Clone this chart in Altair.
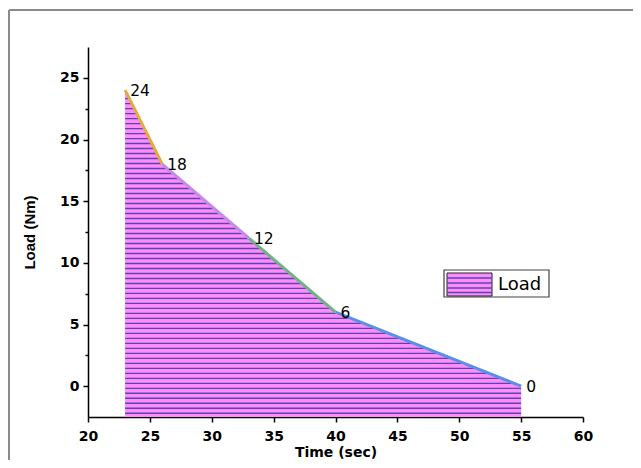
import altair as alt
import pandas as pd

# ---- data ----
time_sec = [23, 26, 33, 40, 55]
load_nm = [24, 18, 12, 6, 0]
point_labels = ["24", "18", "12", "6", "0"]
segment_names = ["a", "b", "c", "d"]
segment_colors = ["#e2ac3a", "#c58ae8", "#6fb383", "#5b8fe6"]
legend_label = "Load"
x_title = "Time (sec)"
y_title = "Load (Nm)"

PINK = "#fd8dfd"
DARK = "#5c44b0"
W, H = 495, 370
XDOM = [20, 60]
YDOM = [-2.5, 27.5]

pts = pd.DataFrame({"t": time_sec, "load": load_nm, "lab": point_labels})
seg_rows = []
for i, name in enumerate(segment_names):
    for j in (i, i + 1):
        seg_rows.append({"seg": name, "t": time_sec[j], "load": load_nm[j], "o": j})
segs = pd.DataFrame(seg_rows)
one = pd.DataFrame({"k": [0]})

xs = alt.Scale(domain=XDOM, nice=False, zero=False)
ys = alt.Scale(domain=YDOM, nice=False, zero=False)

common_axis = dict(
    grid=False, domainColor="black", domainWidth=1.5, tickColor="black", tickWidth=1.5,
    labelFont="DejaVu Sans", labelFontWeight="bold", labelFontSize=14, labelColor="black",
    titleFont="DejaVu Sans", titleFontWeight="bold", titleFontSize=14, titleColor="black",
    labelOverlap=False, labelFlush=False,
    labelExpr="datum.value % 5 === 0 ? datum.label : ''",
    tickSize={"condition": {"test": "datum.value % 5 === 0", "value": 5}, "value": 3},
)
x_axis = alt.Axis(values=[20 + 2.5 * i for i in range(17)], title=x_title,
                  labelPadding=7, titlePadding=2, **common_axis)
y_common = dict(common_axis)
y_common["titleFont"] = "Liberation Sans"
y_common["titleFontSize"] = 15
y_axis = alt.Axis(values=[2.5 * i for i in range(11)], title=y_title,
                  labelPadding=4, titlePadding=22, **y_common)


def X(field):
    return alt.X(field, scale=xs, axis=x_axis)


def Y(field):
    return alt.Y(field, scale=ys, axis=y_axis)


area = alt.Chart(pts).mark_area(color=PINK, opacity=1).encode(
    x=X("t:Q"), y=Y("load:Q"), y2=alt.datum(YDOM[0]),
)

stripes = alt.Chart(alt.sequence(-2.2, 24.1, 0.405, as_="s")).mark_rule(
    color=DARK, strokeWidth=1.4
).encode(
    y=Y("s:Q"),
    x=alt.datum(time_sec[0]),
    x2=alt.datum(time_sec[-1]),
)

mask = alt.Chart(pts).mark_area(color="white", opacity=1, stroke="white", strokeWidth=1.5).encode(
    x=X("t:Q"), y=Y("load:Q"), y2=alt.datum(24.4),
)

lines = alt.Chart(segs).mark_line(strokeWidth=3).encode(
    x=X("t:Q"), y=Y("load:Q"),
    color=alt.Color("seg:N", scale=alt.Scale(domain=segment_names, range=segment_colors), legend=None),
    order="o:Q",
)

labels = alt.Chart(pts).mark_text(
    align="left", baseline="middle", dx=5, dy=1, fontSize=15.5, font="DejaVu Sans", color="black"
).encode(x=X("t:Q"), y=Y("load:Q"), text="lab:N")

# ---- hand-built legend ----
LX0, LX1, LY0, LY1 = 356, 461, 223, 250
SX0, SX1, SY0, SY1 = 359, 404, 226, 249
leg_box = alt.Chart(one).mark_rect(fill="white", stroke="#404040", strokeWidth=1.2).encode(
    x=alt.value(LX0), x2=alt.value(LX1), y=alt.value(LY0), y2=alt.value(LY1))
leg_sw = alt.Chart(one).mark_rect(fill=PINK, stroke="#222222", strokeWidth=1).encode(
    x=alt.value(SX0), x2=alt.value(SX1), y=alt.value(SY0), y2=alt.value(SY1))
leg_stripes = [
    alt.Chart(one).mark_rule(color=DARK, strokeWidth=1.4).encode(
        x=alt.value(SX0), x2=alt.value(SX1), y=alt.value(yy))
    for yy in (231, 236, 241, 245.5)
]
leg_text = alt.Chart(one).mark_text(
    text=legend_label, align="left", baseline="middle", fontSize=18, font="DejaVu Sans", color="black"
).encode(x=alt.value(410), y=alt.value(237.5))

# ---- outer frame (top and left) ----
frame_top = alt.Chart(one).mark_rule(color="#8a8a8a", strokeWidth=2).encode(
    x=alt.value(-79), x2=alt.value(W + 50), y=alt.value(-37))
frame_left = alt.Chart(one).mark_rule(color="#8a8a8a", strokeWidth=2).encode(
    x=alt.value(-79), y=alt.value(-37), y2=alt.value(H + 43))

chart = alt.layer(
    area, stripes, mask, lines, labels, leg_box, leg_sw, *leg_stripes, leg_text, frame_top, frame_left
).properties(
    width=W, height=H,
    autosize=alt.AutoSizeParams(type="none"),
    padding={"left": 80, "top": 39, "right": 50, "bottom": 43},
    background="white",
).configure_view(stroke=None)

chart.save("out.html", embed_options={"renderer": "svg", "actions": False})
